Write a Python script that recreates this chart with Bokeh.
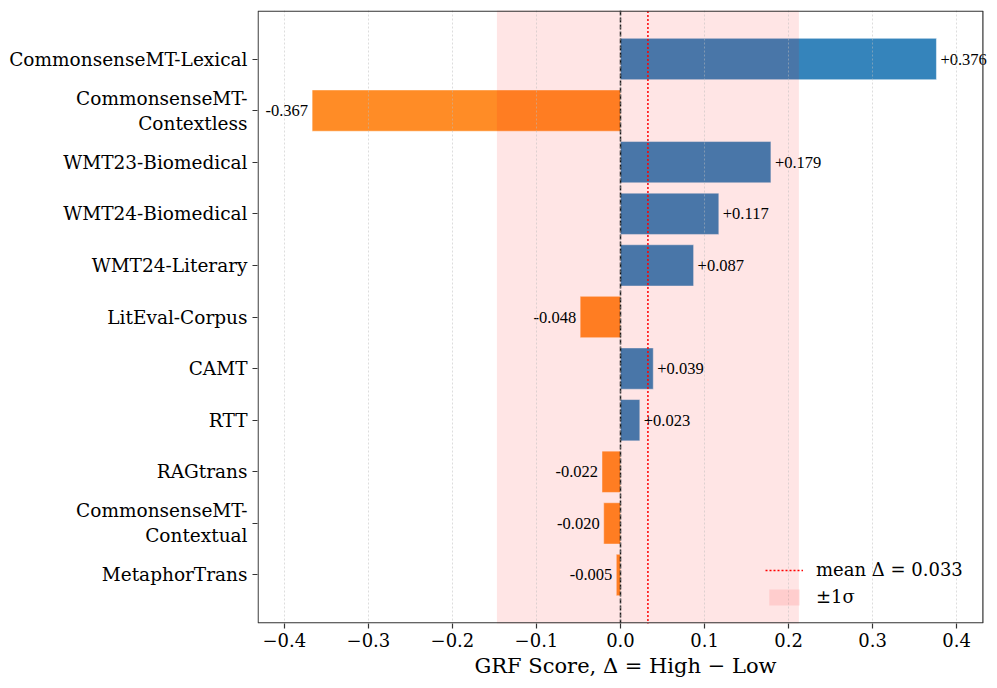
import numpy as np
from bokeh.plotting import figure
from bokeh.models import (ColumnDataSource, Range1d, FixedTicker, Span, LabelSet, Legend,
                          LegendItem, BoxAnnotation)
from bokeh.embed import file_html
from bokeh.resources import INLINE

categories = ["CommonsenseMT-Lexical", "CommonsenseMT-\nContextless", "WMT23-Biomedical",
              "WMT24-Biomedical", "WMT24-Literary", "LitEval-Corpus", "CAMT", "RTT",
              "RAGtrans", "CommonsenseMT-\nContextual", "MetaphorTrans"]
deltas = [0.376, -0.367, 0.179, 0.117, 0.087, -0.048, 0.039, 0.023, -0.022, -0.020, -0.005]
x_ticks = [-0.4, -0.3, -0.2, -0.1, 0.0, 0.1, 0.2, 0.3, 0.4]
x_tick_labels = ["\u22120.4", "\u22120.3", "\u22120.2", "\u22120.1", "0.0", "0.1", "0.2", "0.3", "0.4"]

vals = np.array(deltas)
n = len(categories)
ypos = np.arange(n)
mean = float(vals.mean())
sd = float(vals.std(ddof=1))

SERIF = "DejaVu Serif"
XMIN, XMAX = -0.432, 0.432
FW, FH = 726, 613
EXTRA = 10  # px of frame beyond the right spine, so the largest value label is not clipped

y_top, y_bot = -0.94, n - 1 + 0.94
px_x = (XMAX - XMIN) / FW
px_y = (y_bot - y_top) / FH
p = figure(frame_width=FW + EXTRA, frame_height=FH, output_backend="svg", toolbar_location=None,
           x_range=Range1d(XMIN, XMAX + px_x * EXTRA), y_range=Range1d(y_bot, y_top),
           min_border_left=257, min_border_top=10, min_border_right=4, min_border_bottom=65)
p.background_fill_color = "white"
p.border_fill_color = "white"
p.outline_line_color = None

pos = vals >= 0
src = ColumnDataSource(dict(y=ypos, right=vals, color=np.where(pos, "#1f77b4", "#ff7f0e")))
p.hbar(y="y", left=0, right="right", height=0.8, source=src, fill_color="color",
       fill_alpha=0.9, line_color="white", line_width=0.8, line_alpha=0.6)

band = p.quad(left=[mean - sd], right=[mean + sd], top=[y_top - 1], bottom=[y_bot + 1],
              fill_color="red", fill_alpha=0.1, line_color=None)
zero = Span(location=0, dimension="height", line_color="black", line_dash="5 2",
            line_width=1.5, line_alpha=0.9)
p.add_layout(zero)
mline = p.segment(x0=[mean], x1=[mean], y0=[y_top - 1], y1=[y_bot + 1],
                  line_color="red", line_dash="2 2", line_width=1.5)

# value labels
psrc = ColumnDataSource(dict(x=vals[pos], y=ypos[pos], t=["+%.3f" % v for v in vals[pos]]))
nsrc = ColumnDataSource(dict(x=vals[~pos], y=ypos[~pos], t=["%.3f" % v for v in vals[~pos]]))
p.add_layout(LabelSet(x="x", y="y", text="t", source=psrc, x_offset=4, text_align="left",
                      text_baseline="middle", text_font=SERIF, text_font_size="16.5px",
                      text_color="black"))
p.add_layout(LabelSet(x="x", y="y", text="t", source=nsrc, x_offset=-4, text_align="right",
                      text_baseline="middle", text_font=SERIF, text_font_size="16.5px",
                      text_color="black"))

# grid
p.ygrid.grid_line_color = None
p.xgrid.ticker = FixedTicker(ticks=x_ticks)
p.xgrid.grid_line_color = "#bbbbbb"
p.xgrid.grid_line_alpha = 0.5
p.xgrid.grid_line_dash = "2 2"
p.xgrid.level = "overlay"

# spines (box drawn just inside the data area)
p.add_layout(BoxAnnotation(left=XMIN + 0.6 * px_x, right=XMAX - 0.6 * px_x,
                           top=y_top + 0.6 * px_y, bottom=y_bot - 0.6 * px_y,
                           fill_alpha=0, line_color="#333333",
                           line_alpha=1.0, line_width=1.2, level="overlay"))

# axes
xa = p.xaxis[0]
xa.ticker = FixedTicker(ticks=x_ticks)
xa.major_label_overrides = {t: l for t, l in zip(x_ticks, x_tick_labels)}
xa.axis_label = "GRF Score, \u0394 = High \u2212 Low"
xa.axis_label_text_font = SERIF
xa.axis_label_text_font_size = "21px"
xa.axis_label_text_font_style = "normal"
xa.axis_label_standoff = 4
xa.major_label_text_font = SERIF
xa.major_label_text_font_size = "18px"
xa.major_label_standoff = 4

ya = p.yaxis[0]
ya.ticker = FixedTicker(ticks=list(ypos))
ya.major_label_overrides = {int(i): c for i, c in zip(ypos, categories)}
ya.major_label_text_font = SERIF
ya.major_label_text_font_size = "18.5px"
ya.major_label_standoff = 5
ya.major_label_text_align = "right"

for ax in (xa, ya):
    ax.major_tick_line_color = "#333333"
    ax.major_tick_line_width = 1.2
    ax.major_tick_out = 5
    ax.major_tick_in = 0
    ax.minor_tick_line_color = None
    ax.major_label_text_color = "black"
    ax.axis_label_text_color = "black"
xa.axis_line_color = None
ya.axis_line_color = None

legend = Legend(items=[LegendItem(label="mean \u0394 = %.3f" % mean, renderers=[mline]),
                       LegendItem(label="\u00b11\u03c3", renderers=[band])],
                location=(508, 16))
legend.label_text_font = SERIF
legend.label_text_font_size = "18px"
legend.label_text_color = "black"
legend.glyph_width = 38
legend.glyph_height = 20
legend.label_height = 20
legend.spacing = 6
legend.padding = 0
legend.margin = 0
legend.label_standoff = 13
legend.border_line_color = None
legend.background_fill_alpha = 0
p.add_layout(legend, "center")

open("out.html", "w").write(file_html(p, INLINE))
